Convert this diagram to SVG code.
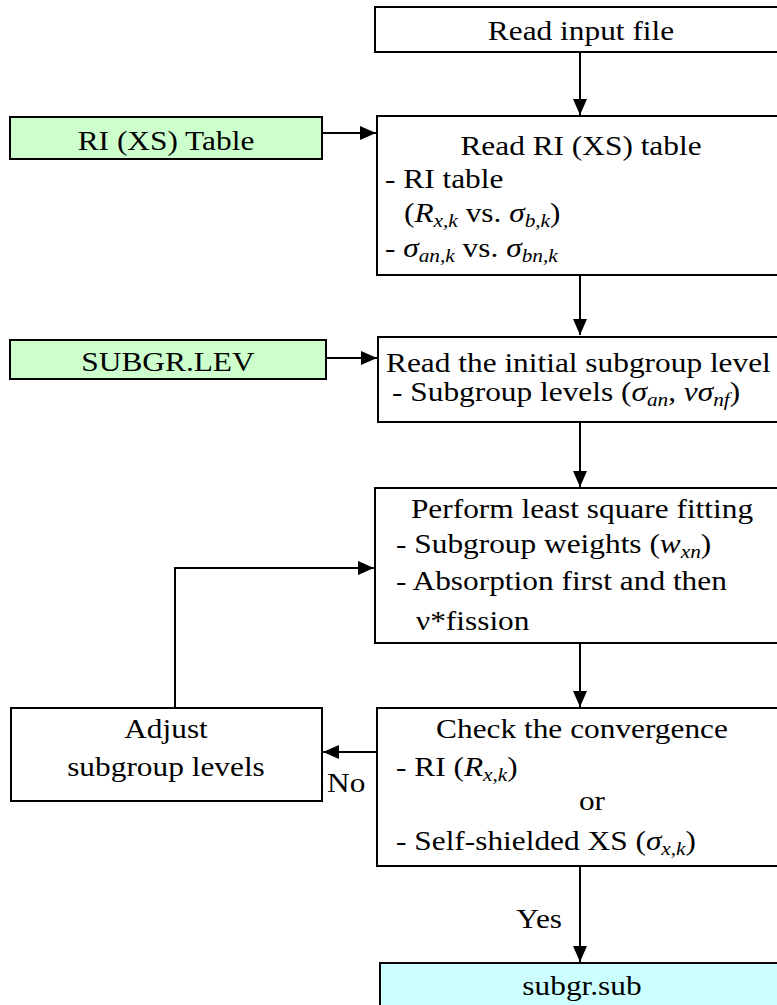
<svg xmlns="http://www.w3.org/2000/svg" width="777" height="1005" viewBox="0 0 777 1005">
<style>
.box{fill:#ffffff;stroke:#000;stroke-width:2}
.green{fill:#ccffcc}
.cyan{fill:#ccffff}
text{font-family:"Liberation Serif","Times New Roman",serif;font-size:28px;fill:#000}
.c{text-anchor:middle}
.it{font-style:italic}
.sb{font-style:italic;font-size:19px}
.conn{fill:none;stroke:#000;stroke-width:2}
</style>
<defs>
<marker id="ah" viewBox="0 0 16 14" refX="16" refY="7" markerWidth="16" markerHeight="14" markerUnits="userSpaceOnUse" orient="auto">
<path d="M0,0 L16,7 L0,14 Z" fill="#000"/>
</marker>
</defs>
<rect width="777" height="1005" fill="#fff"/>

<g id="connectors">
<line class="conn" x1="580" y1="52" x2="580" y2="115" marker-end="url(#ah)"/>
<line class="conn" x1="322" y1="133" x2="376" y2="133" marker-end="url(#ah)"/>
<line class="conn" x1="580" y1="275" x2="580" y2="335" marker-end="url(#ah)"/>
<line class="conn" x1="326" y1="358" x2="377" y2="358" marker-end="url(#ah)"/>
<line class="conn" x1="580" y1="422" x2="580" y2="487" marker-end="url(#ah)"/>
<line class="conn" x1="580" y1="643" x2="580" y2="707" marker-end="url(#ah)"/>
<line class="conn" x1="377" y1="752" x2="323" y2="752" marker-end="url(#ah)"/>
<polyline class="conn" points="175,708 175,568 374,568" marker-end="url(#ah)"/>
<line class="conn" x1="580" y1="866" x2="580" y2="962" marker-end="url(#ah)"/>
<text transform="translate(327,792) scale(1.12,1)">No</text>
<text transform="translate(562,928) scale(1.12,1)" text-anchor="end">Yes</text>
</g>

<g id="read-input">
<rect class="box" x="375" y="7" width="420" height="45"/>
<text class="c" transform="translate(581,40) scale(1.12,1)">Read input file</text>
</g>

<g id="ri-table-file">
<rect class="box green" x="10" y="117" width="312" height="42"/>
<text class="c" transform="translate(166,150) scale(1.12,1)">RI (XS) Table</text>
</g>

<g id="read-ri-table">
<rect class="box" x="377" y="116" width="420" height="159"/>
<text class="c" transform="translate(581,155) scale(1.12,1)">Read RI (XS) table</text>
<text transform="translate(385,188) scale(1.12,1)">- RI table</text>
<text transform="translate(404,222) scale(1.12,1)">(<tspan class="it">R</tspan><tspan class="sb" dy="5">x,k</tspan><tspan dy="-5"> vs. </tspan><tspan class="it">σ</tspan><tspan class="sb" dy="5">b,k</tspan><tspan dy="-5">)</tspan></text>
<text transform="translate(385,257) scale(1.12,1)">- <tspan class="it">σ</tspan><tspan class="sb" dy="5">an,k</tspan><tspan dy="-5"> vs. </tspan><tspan class="it">σ</tspan><tspan class="sb" dy="5">bn,k</tspan></text>
</g>

<g id="subgr-lev-file">
<rect class="box green" x="10" y="340" width="316" height="39"/>
<text class="c" transform="translate(168,371) scale(1.12,1)">SUBGR.LEV</text>
</g>

<g id="read-levels">
<rect class="box" x="378" y="337" width="420" height="85"/>
<text transform="translate(386,372) scale(1.12,1)">Read the initial subgroup level</text>
<text transform="translate(392,401) scale(1.12,1)">- Subgroup levels (<tspan class="it">σ</tspan><tspan class="sb" dy="5">an</tspan><tspan dy="-5">,  </tspan><tspan class="it">νσ</tspan><tspan class="sb" dy="5">nf</tspan><tspan dy="-5">)</tspan></text>
</g>

<g id="fitting">
<rect class="box" x="375" y="488" width="420" height="155"/>
<text class="c" transform="translate(582,518) scale(1.12,1)">Perform least square fitting</text>
<text transform="translate(396,553) scale(1.12,1)">- Subgroup weights (<tspan class="it">w</tspan><tspan class="sb" dy="5">xn</tspan><tspan dy="-5">)</tspan></text>
<text transform="translate(396,590) scale(1.12,1)">- Absorption first and then</text>
<text transform="translate(416,630) scale(1.12,1)">ν*fission</text>
</g>

<g id="adjust">
<rect class="box" x="11" y="708" width="311" height="93"/>
<text class="c" transform="translate(166,738) scale(1.12,1)">Adjust</text>
<text class="c" transform="translate(166,776) scale(1.12,1)">subgroup levels</text>
</g>

<g id="check">
<rect class="box" x="377" y="708" width="420" height="158"/>
<text class="c" transform="translate(582,738) scale(1.12,1)">Check the convergence</text>
<text transform="translate(396,776) scale(1.12,1)">- RI (<tspan class="it">R</tspan><tspan class="sb" dy="5">x,k</tspan><tspan dy="-5">)</tspan></text>
<text class="c" transform="translate(592,810) scale(1.12,1)">or</text>
<text transform="translate(396,850) scale(1.12,1)">- Self-shielded XS (<tspan class="it">σ</tspan><tspan class="sb" dy="5">x,k</tspan><tspan dy="-5">)</tspan></text>
</g>

<g id="subgr-sub">
<rect class="box cyan" x="380" y="963" width="420" height="50"/>
<text class="c" transform="translate(582,995) scale(1.12,1)">subgr.sub</text>
</g>
</svg>
